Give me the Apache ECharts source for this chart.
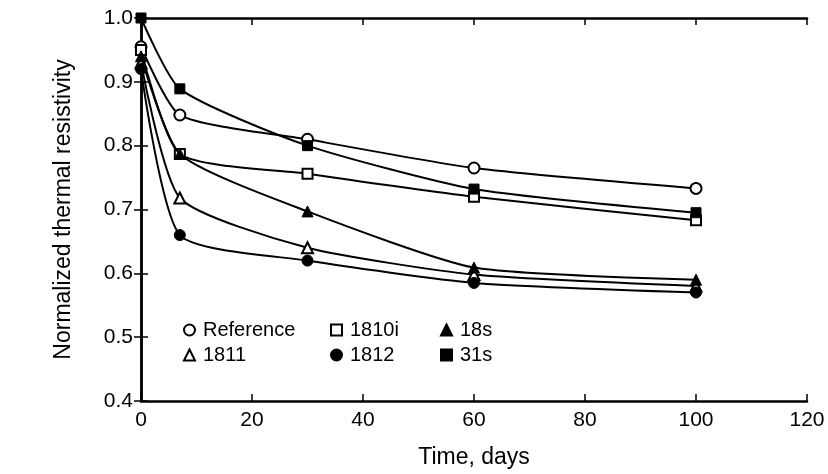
<!DOCTYPE html>
<html><head><meta charset="utf-8">
<script src="https://cdn.jsdelivr.net/npm/echarts@6/dist/echarts.min.js"></script>
<style>html,body{margin:0;padding:0;background:#fff}#c{width:828px;height:474px}</style>
</head><body><div id="c"></div>
<script>
const days = [0, 7, 30, 60, 100];
const reference = [0.955, 0.848, 0.81, 0.765, 0.733];
const s1810i   = [0.95, 0.787, 0.756, 0.72, 0.683];
const s18s     = [0.94, 0.787, 0.697, 0.609, 0.59];
const s1811    = [0.93, 0.718, 0.64, 0.598, 0.58];
const s1812    = [0.92, 0.66, 0.62, 0.585, 0.57];
const s31s     = [1.0, 0.889, 0.8, 0.732, 0.695];
const xTicks = [0, 20, 40, 60, 80, 100, 120];
const yTicks = [0.4, 0.5, 0.6, 0.7, 0.8, 0.9, 1.0];

const FONT = '"Liberation Sans", Arial, sans-serif';
const pair = arr => days.map((d, i) => [d, arr[i]]);
const openStyle = {color: '#fff', borderColor: '#000', borderWidth: 2};
const fillStyle = {color: '#000', borderColor: '#000', borderWidth: 1};
function mk(name, data, symbol, size, open) {
  return {
    name, type: 'line', data: pair(data), symbol, symbolSize: size,
    smooth: 0.2,
    lineStyle: {color: '#000', width: 2},
    itemStyle: open ? openStyle : fillStyle,
    z: open ? 3 : 4
  };
}
const series = [
  mk('Reference', reference, 'circle', 11, true),
  mk('1810i', s1810i, 'rect', 10, true),
  mk('18s', s18s, 'triangle', 11, false),
  mk('1811', s1811, 'triangle', 11, true),
  mk('1812', s1812, 'circle', 11, false),
  mk('31s', s31s, 'rect', 10, false)
];
const legendBase = {
  orient: 'vertical', top: 320, itemGap: 5, itemWidth: 11, itemHeight: 11, padding: 0,
  textStyle: {fontFamily: FONT, fontSize: 20, lineHeight: 16, color: '#000', padding: [0, 0, 0, 3]},
  selectedMode: false
};
const axisLine = {show: true, lineStyle: {color: '#000', width: 2.5}};
const tick = {show: true, inside: true, length: 7, lineStyle: {color: '#000', width: 1.5}};
const chart = echarts.init(document.getElementById('c'));
chart.setOption({
  backgroundColor: '#fff',
  animation: false,
  grid: {left: 141, right: 21, top: 18, bottom: 73},
  legend: [
    Object.assign({}, legendBase, {left: 183, data: [{name: 'Reference', icon: 'circle'}, {name: '1811', icon: 'triangle'}]}),
    Object.assign({}, legendBase, {left: 330, data: [{name: '1810i', icon: 'rect'}, {name: '1812', icon: 'circle'}]}),
    Object.assign({}, legendBase, {left: 440, data: [{name: '18s', icon: 'triangle'}, {name: '31s', icon: 'rect'}]})
  ],
  xAxis: [{
    type: 'value', min: xTicks[0], max: xTicks[xTicks.length - 1], interval: 20,
    name: 'Time, days', nameLocation: 'middle', nameGap: 45,
    nameTextStyle: {fontFamily: FONT, fontSize: 23, color: '#000'},
    axisLine, axisTick: tick,
    axisLabel: {fontFamily: FONT, fontSize: 21, color: '#000', margin: 9},
    splitLine: {show: false}
  }, {
    type: 'value', position: 'top', min: xTicks[0], max: xTicks[xTicks.length - 1], interval: 20,
    axisLine, axisTick: tick, axisLabel: {show: false}, splitLine: {show: false}
  }],
  yAxis: [{
    type: 'value', min: yTicks[0], max: yTicks[yTicks.length - 1], interval: 0.1,
    name: 'Normalized thermal resistivity', nameLocation: 'middle', nameGap: 66, nameRotate: 90,
    nameTextStyle: {fontFamily: FONT, fontSize: 23, color: '#000'},
    axisLine, axisTick: tick,
    axisLabel: {fontFamily: FONT, fontSize: 21, color: '#000', margin: 8, formatter: v => v.toFixed(1)},
    splitLine: {show: false}
  }, {
    type: 'value', position: 'right', min: yTicks[0], max: yTicks[yTicks.length - 1], interval: 0.1,
    axisLine, axisTick: tick, axisLabel: {show: false}, splitLine: {show: false}
  }],
  series
});
</script>
</body></html>
